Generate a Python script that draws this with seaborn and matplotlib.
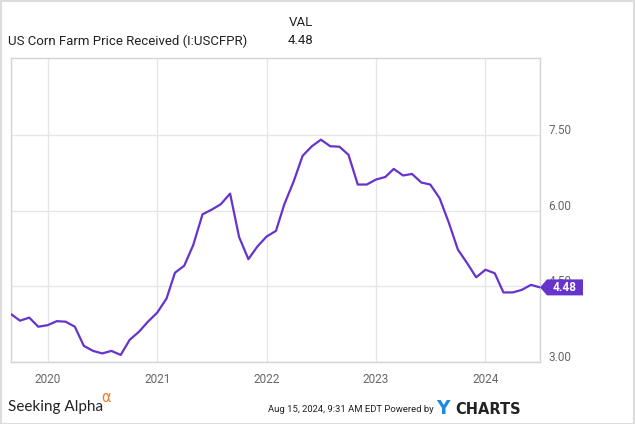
import numpy as np
import pandas as pd
import matplotlib
matplotlib.use("Agg")
import matplotlib.pyplot as plt
import matplotlib.dates as mdates
from matplotlib.transforms import ScaledTranslation, blended_transform_factory
from matplotlib.patches import Polygon, Rectangle
import seaborn as sns

# ---- data (monthly, Sep 2019 .. Jul 2024) ----
start_month = "2019-09-01"
prices = [3.95, 3.82, 3.88, 3.70, 3.73, 3.81, 3.80, 3.70, 3.32, 3.22,
          3.17, 3.22, 3.14, 3.44, 3.60, 3.80, 3.98, 4.26, 4.77, 4.91,
          5.32, 5.93, 6.02, 6.13, 6.34, 5.48, 5.04, 5.29, 5.49, 5.60,
          6.13, 6.58, 7.09, 7.28, 7.41, 7.28, 7.27, 7.11, 6.52, 6.52,
          6.62, 6.67, 6.83, 6.70, 6.73, 6.56, 6.52, 6.25, 5.76, 5.23,
          4.96, 4.68, 4.83, 4.76, 4.38, 4.38, 4.43, 4.53, 4.48]
year_ticks = ["2020", "2021", "2022", "2023", "2024"]
y_ticks = [3.00, 4.50, 6.00, 7.50]
title = "US Corn Farm Price Received (I:USCFPR)"
last_val = "4.48"

dates = pd.date_range(start_month, periods=len(prices), freq="MS")
df = pd.DataFrame({"date": dates, "price": prices})

sns.set_style("white")
plt.rcParams["font.family"] = ["Roboto", "DejaVu Sans"]

W, H = 635, 424
fig = plt.figure(figsize=(W / 100, H / 100), dpi=100)
L, R, T, B = 11, 540, 58, 362
ax = fig.add_axes([L / W, 1 - B / H, (R - L) / W, (B - T) / H])

LINE = "#6633cc"
sns.lineplot(data=df, x="date", y="price", ax=ax, color=LINE, linewidth=1.6, zorder=3)

ax.set_xlim(dates[0], dates[-1])
ax.set_ylim(3.0, 9.03)
ax.set_xlabel("")
ax.set_ylabel("")

xt = [pd.Timestamp(f"{y}-01-01") for y in year_ticks]
ax.set_xticks(xt)
ax.set_xticklabels(year_ticks)
ax.set_yticks(y_ticks)
ax.set_yticklabels([f"{v:.2f}" for v in y_ticks])
ax.yaxis.tick_right()
ax.tick_params(axis="both", length=0, labelsize=8.5, labelcolor="#666666")
ax.tick_params(axis="x", pad=8)
ax.tick_params(axis="y", pad=6)
for lab in ax.get_yticklabels():
    lab.set_transform(lab.get_transform() + ScaledTranslation(0, 0.06, fig.dpi_scale_trans))

ax.grid(True, color="#e6e6e6", linewidth=1.0)
ax.set_axisbelow(True)
for s in ax.spines.values():
    s.set_color("#d4d4d4")
    s.set_linewidth(1.0)

# value badge
tr = blended_transform_factory(ax.transAxes, ax.transData)
pw = R - L
yv = prices[-1]
dy = 8 * (9.03 - 3.0) / (B - T)
badge = Polygon([(1.0, yv), (1 + 7 / pw, yv + dy), (1 + 43 / pw, yv + dy),
                 (1 + 43 / pw, yv - dy), (1 + 7 / pw, yv - dy)],
                closed=True, transform=tr, facecolor=LINE, edgecolor="none",
                clip_on=False, zorder=10)
ax.add_patch(badge)
ax.text(1 + 25 / pw, yv, last_val, transform=tr, ha="center", va="center",
        color="white", fontsize=8.5, fontweight="bold", zorder=11, clip_on=False)

# header
fig.text(8 / W, 1 - 41 / H, title, ha="left", va="center", fontsize=9.5, color="#222222")
fig.text(313 / W, 1 - 22 / H, "VAL", ha="right", va="center", fontsize=9.5, color="#222222")
fig.text(313 / W, 1 - 41 / H, last_val, ha="right", va="center", fontsize=9.5, color="#222222")

# footer
fig.text(8 / W, 1 - 407 / H, "Seeking Alpha", ha="left", va="center", fontsize=11,
         color="#222222", family=["Lato", "DejaVu Sans"])
fig.text(101 / W, 1 - 398 / H, "α", ha="left", va="center", fontsize=10.5,
         color="#f07c1e", family=["DejaVu Sans"])
fig.text(434 / W, 1 - 410 / H, "Aug 15, 2024, 9:31 AM EDT Powered by", ha="right",
         va="center", fontsize=6.8, color="#222222",
         family=["Roboto", "DejaVu Sans"])
fig.text(436 / W, 1 - 409 / H, "Y", ha="left", va="center", fontsize=13.5,
         fontweight="bold", color="#1e88e5", family=["DejaVu Sans"])
fig.text(455 / W, 1 - 409 / H, "CHARTS", ha="left", va="center", fontsize=10.5,
         fontweight="bold", color="#222222", family=["DejaVu Sans"])

# outer frame
fig.patches.append(Rectangle((0.5 / W, 0.5 / H), 1 - 1.5 / W, 1 - 1.5 / H,
                             transform=fig.transFigure, fill=False,
                             edgecolor="#dddddd", linewidth=1.5))

fig.savefig("out.png", dpi=100, facecolor="white")
